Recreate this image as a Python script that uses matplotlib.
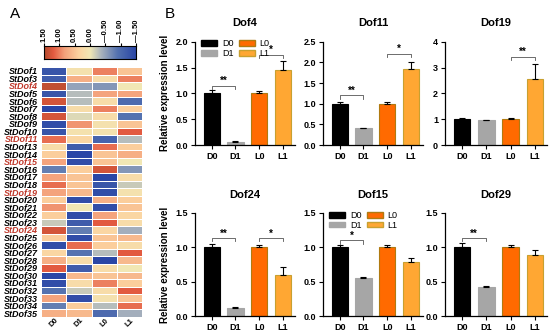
import numpy as np
import matplotlib
matplotlib.use('Agg')
import matplotlib.pyplot as plt
from matplotlib.colors import LinearSegmentedColormap
from matplotlib.patches import Patch

plt.rcParams['font.family'] = 'Liberation Sans'
plt.rcParams['font.weight'] = 'bold'

# Heatmap data (z-scores, columns D0, D1, L0, L1)
conditions = ['D0', 'D1', 'L0', 'L1']
genes = ['StDof1', 'StDof3', 'StDof4', 'StDof5', 'StDof6', 'StDof7', 'StDof8', 'StDof9',
         'StDof10', 'StDof11', 'StDof13', 'StDof14', 'StDof15', 'StDof16', 'StDof17',
         'StDof18', 'StDof19', 'StDof20', 'StDof21', 'StDof22', 'StDof23', 'StDof24',
         'StDof25', 'StDof26', 'StDof27', 'StDof28', 'StDof29', 'StDof30', 'StDof31',
         'StDof32', 'StDof33', 'StDof34', 'StDof35']
highlight = ['StDof4', 'StDof11', 'StDof15', 'StDof19', 'StDof24']
heat = [
    [-1.3, 0.1, 1.0, 0.5],
    [-1.2, 0.7, 0.2, 1.0],
    [1.4, -0.5, -0.6, 0.0],
    [-1.3, -0.3, 0.8, 0.8],
    [1.3, -0.3, 0.2, -1.0],
    [-1.5, 0.2, 1.0, 0.4],
    [1.3, -0.1, 0.2, -0.9],
    [-1.4, 0.9, 0.1, 0.5],
    [-1.3, 0.1, 0.1, 1.2],
    [1.1, 0.3, -1.1, -0.3],
    [0.2, -1.2, 1.1, 0.4],
    [0.4, -1.5, 0.5, 0.7],
    [0.8, -1.4, 0.5, 0.0],
    [-0.8, 0.4, 1.3, -0.6],
    [0.8, 0.5, -1.5, 0.2],
    [1.1, 0.5, -1.3, -0.2],
    [0.8, 0.6, -1.4, 0.1],
    [0.4, -1.4, 0.7, 0.4],
    [0.9, 0.0, -1.4, 0.5],
    [0.4, -1.4, 0.8, 0.3],
    [-0.2, -1.2, 1.2, 0.2],
    [1.3, -0.8, 0.3, -0.4],
    [0.4, -1.4, 0.5, 0.6],
    [-1.4, 1.1, 0.4, 0.2],
    [0.3, -0.9, -0.3, 1.2],
    [0.7, 0.2, -1.5, 0.6],
    [1.2, -1.2, 0.2, 0.0],
    [-1.5, 0.6, 0.5, 0.6],
    [-1.4, 0.2, 1.0, 0.4],
    [-0.9, -0.2, 0.2, 1.2],
    [0.8, -1.4, 0.1, 0.5],
    [-0.8, 0.4, -0.3, 1.1],
    [0.7, 0.6, -1.0, -0.4],
]
cbar_ticks = [1.5, 1.0, 0.5, 0.0, -0.5, -1.0, -1.5]

# qPCR bar data
panels = ['Dof4', 'Dof11', 'Dof19', 'Dof24', 'Dof15', 'Dof29']
means = {
    'Dof4': [1.0, 0.06, 1.0, 1.46],
    'Dof11': [1.0, 0.40, 1.0, 1.85],
    'Dof19': [1.0, 0.95, 1.0, 2.55],
    'Dof24': [1.0, 0.12, 1.0, 0.59],
    'Dof15': [1.0, 0.56, 1.0, 0.78],
    'Dof29': [1.0, 0.42, 1.0, 0.89],
}
errs = {
    'Dof4': [0.07, 0.02, 0.04, 0.17],
    'Dof11': [0.05, 0.01, 0.03, 0.15],
    'Dof19': [0.05, 0.02, 0.05, 0.57],
    'Dof24': [0.05, 0.01, 0.03, 0.13],
    'Dof15': [0.04, 0.01, 0.04, 0.07],
    'Dof29': [0.06, 0.01, 0.04, 0.07],
}
ylims = {'Dof4': (2.0, [0, 0.5, 1.0, 1.5, 2.0]),
         'Dof11': (2.5, [0, 0.5, 1.0, 1.5, 2.0, 2.5]),
         'Dof19': (4, [0, 1, 2, 3, 4]),
         'Dof24': (1.5, [0, 0.5, 1.0, 1.5]),
         'Dof15': (1.5, [0, 0.5, 1.0, 1.5]),
         'Dof29': (1.5, [0, 0.5, 1.0, 1.5])}
# significance brackets: (i, j, height, label)
sig = {
    'Dof4': [(0, 1, 1.15, '**'), (2, 3, 1.75, '*')],
    'Dof11': [(0, 1, 1.2, '**'), (2, 3, 2.2, '*')],
    'Dof19': [(2, 3, 3.4, '**')],
    'Dof24': [(0, 1, 1.13, '**'), (2, 3, 1.13, '*')],
    'Dof15': [(0, 1, 1.1, '*')],
    'Dof29': [(0, 1, 1.13, '**')],
}
bar_colors = ['#000000', '#a6a6a6', '#ff6a00', '#ffa733']
edge_colors = ['#000000', '#a6a6a6', '#b07a10', '#c8a030']

W, H = 550, 333
fig = plt.figure(figsize=(W / 100, H / 100), dpi=100)

cmap = LinearSegmentedColormap.from_list('rb', [
    (0.0, '#2a46a6'), (0.2, '#5472b0'), (0.38, '#aab4bd'), (0.5, '#f1e7b4'),
    (0.62, '#fcd3a0'), (0.78, '#f3a07a'), (0.9, '#e35a40'), (1.0, '#b24a2c')])

# ---- heatmap ----
axh = fig.add_axes([41 / W, 1 - 317 / H, 101 / W, 250 / H])
data = np.array(heat)
axh.pcolormesh(data, cmap=cmap, vmin=-1.5, vmax=1.5, edgecolors='white', linewidth=0.7)
axh.set_ylim(len(genes), 0)
axh.set_xlim(0, 4)
axh.set_yticks(np.arange(len(genes)) + 0.5)
axh.set_yticklabels(genes, fontsize=6.5, fontstyle='italic', fontweight='bold')
for lab in axh.get_yticklabels():
    if lab.get_text() in highlight:
        lab.set_color('#c0392b')
axh.set_xticks(np.arange(4) + 0.5)
axh.set_xticklabels(conditions, rotation=45, fontsize=5.5, fontweight='bold')
axh.tick_params(axis='y', length=0, pad=2)
axh.tick_params(axis='x', length=0, pad=0)
for s in axh.spines.values():
    s.set_visible(False)

# colorbar
axc = fig.add_axes([44 / W, 1 - 59 / H, 92 / W, 13 / H])
grad = np.linspace(1.5, -1.5, 256).reshape(1, -1)
axc.imshow(grad, aspect='auto', cmap=cmap, vmin=-1.5, vmax=1.5, extent=[1.5, -1.5, 0, 1])
axc.set_xlim(1.5, -1.5)
axc.xaxis.tick_top()
axc.set_xticks(cbar_ticks)
axc.set_xticklabels([f'{t:.2f}' if t >= 0 else f'\u2014{abs(t):.2f}' for t in cbar_ticks],
                    rotation=90, fontsize=5.5, fontweight='bold')
axc.tick_params(axis='x', length=2, pad=1)
axc.set_yticks([])

fig.text(10 / W, 1 - 14 / H, 'A', fontsize=11, fontweight='normal', va='center')
fig.text(165 / W, 1 - 14 / H, 'B', fontsize=11, fontweight='normal', va='center')

# ---- bar charts ----
lefts = [195, 323, 445]
widths = [100, 100, 102]
tops = [41.7, 213]
bottoms = [145, 316]
x = np.arange(4)
for k, name in enumerate(panels):
    r, c = divmod(k, 3)
    ax = fig.add_axes([lefts[c] / W, 1 - bottoms[r] / H, widths[c] / W,
                       (bottoms[r] - tops[r]) / H])
    ax.bar(x, means[name], width=0.68, color=bar_colors, edgecolor=edge_colors, linewidth=0.8)
    ax.errorbar(x, means[name], yerr=[np.zeros(4), errs[name]], fmt='none',
                ecolor='black', elinewidth=0.8, capsize=2.5, capthick=0.8)
    top, ticks = ylims[name]
    ax.set_ylim(0, top)
    ax.set_yticks(ticks)
    ax.set_yticklabels([f'{t:.1f}' if top < 3 else f'{t:d}' for t in ticks])
    ax.set_xlim(-0.7, 3.5)
    ax.set_xticks(x)
    ax.set_xticklabels(conditions)
    ax.tick_params(labelsize=6.5, width=0.8, length=3, pad=2)
    for s in ['top', 'right']:
        ax.spines[s].set_visible(False)
    for s in ['left', 'bottom']:
        ax.spines[s].set_linewidth(0.9)
    ax.set_title(name, fontsize=8, fontweight='bold', pad=11)
    dh = top * 0.03
    for i, j, h, lab in sig[name]:
        ax.plot([i, i, j, j], [h - dh, h, h, h - dh], color='#555555', lw=0.6)
        ax.text((i + j) / 2, h, lab, ha='center', va='bottom', fontsize=7)
    if c == 0:
        ax.set_ylabel('Relative expression level', fontsize=7, fontweight='bold', labelpad=4)
    if name in ('Dof4', 'Dof15'):
        handles = [Patch(facecolor=bar_colors[i], edgecolor=edge_colors[i]) for i in range(4)]
        ax.legend(handles, conditions, ncol=2, loc='upper left', bbox_to_anchor=(-0.02, 1.1),
                  frameon=False, handlelength=1.8, handleheight=0.6,
                  columnspacing=0.6, labelspacing=0.1, handletextpad=0.5,
                  prop={'weight': 'normal', 'size': 6.5})

fig.savefig('out.png', dpi=100)
